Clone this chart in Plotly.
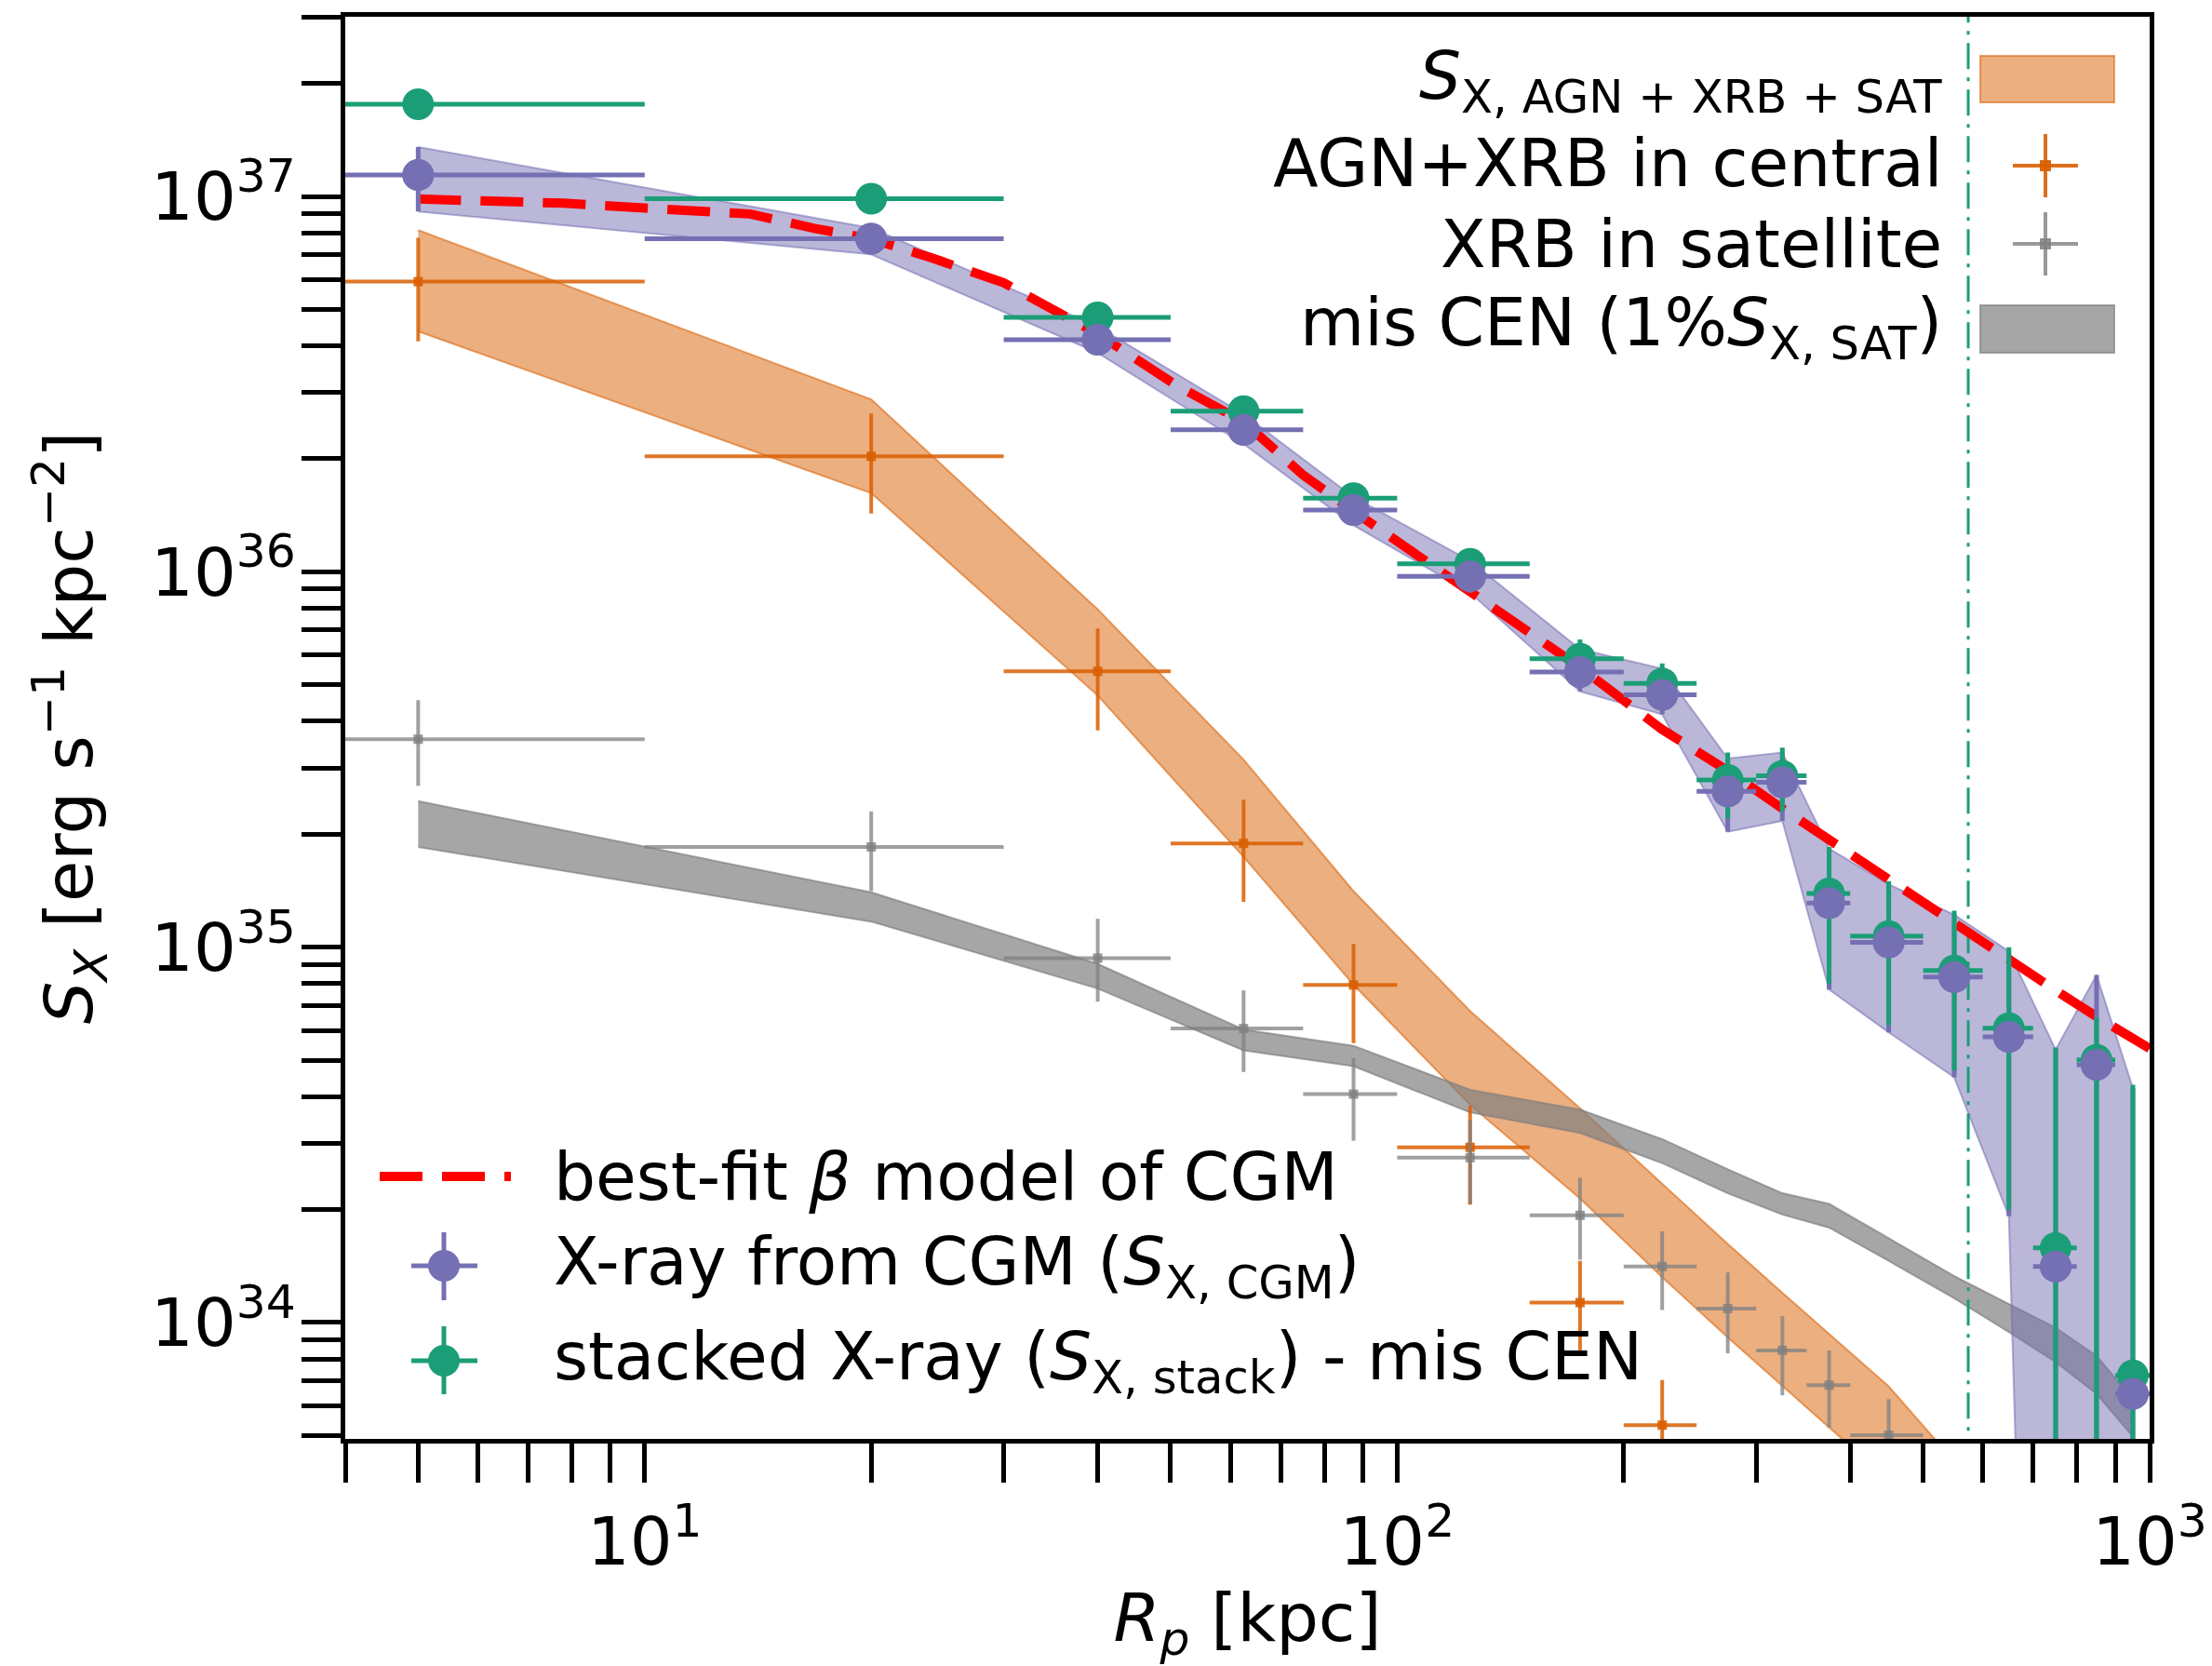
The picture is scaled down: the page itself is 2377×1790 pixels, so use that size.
import plotly.graph_objects as go

# ---------------- data ----------------
# radial bins [kpc]
r_bin = [5, 20, 40, 62.5, 87.5, 125, 175, 225, 275, 325, 375, 450, 550, 650, 750, 850, 950]
r_bin_lo = [0.01, 10, 30, 50, 75, 100, 150, 200, 250, 300, 350, 400, 500, 600, 700, 800, 900]
r_bin_hi = [10, 30, 50, 75, 100, 150, 200, 250, 300, 350, 400, 500, 600, 700, 800, 900, 1000]

# X-ray from CGM (S_X,CGM)
cgm_y = [1.14e37, 7.71e36, 4.15e36, 2.39e36, 1.46e36, 9.73e35, 5.41e35, 4.70e35, 2.60e35,
         2.75e35, 1.31e35, 1.03e35, 8.32e34, 5.77e34, 1.41e34, 4.86e34, 6.46e33]
cgm_hi = [1.354e37, 8.24e36, 4.50e36, 2.63e36, 1.58e36, 1.07e36, 6.22e35, 5.52e35, 3.18e35,
          3.30e35, 1.83e35, 1.47e35, 1.22e35, 9.75e34, 5.33e34, 8.43e34, 4.21e34]
cgm_lo = [9.12e36, 7.01e36, 3.83e36, 2.19e36, 1.33e36, 8.80e35, 4.80e35, 4.17e35, 2.03e35,
          2.17e35, 7.71e34, 5.93e34, 4.50e34, 1.92e34, 1e30, 1e30, 1e30]  # 1e30 ~ consistent with zero

# stacked X-ray (S_X,stack) - mis CEN
stack_y = [1.76e37, 9.86e36, 4.76e36, 2.68e36, 1.57e36, 1.05e36, 5.87e35, 5.04e35, 2.79e35,
           2.86e35, 1.39e35, 1.07e35, 8.67e34, 6.08e34, 1.58e34, 5.01e34, 7.23e33]
stack_hi = [1.82e37, 1.02e37, 4.95e36, 2.80e36, 1.65e36, 1.12e36, 6.60e35, 5.70e35, 3.30e35,
            3.40e35, 1.85e35, 1.50e35, 1.25e35, 1.00e35, 5.40e34, 6.50e34, 4.30e34]
stack_lo = [1.70e37, 9.50e36, 4.57e36, 2.55e36, 1.48e36, 9.80e35, 5.20e35, 4.50e35, 2.20e35,
            2.30e35, 8.00e34, 6.20e34, 4.70e34, 2.00e34, 1e30, 1e30, 1e30]

# best-fit beta model of CGM
beta_r = [5, 6, 7.8, 10, 11.5, 13.8, 16.8, 20, 24, 30, 40, 51, 62.5, 75, 87.5, 104, 125,
          175, 225, 275, 325, 375, 450, 550, 650, 750, 850, 950, 1000]
beta_y = [9.84e36, 9.75e36, 9.59e36, 9.31e36, 9.14e36, 8.98e36, 8.22e36, 7.71e36, 6.87e36,
          5.89e36, 4.30e36, 3.13e36, 2.51e36, 1.81e36, 1.45e36, 1.14e36, 8.91e35,
          5.56e35, 3.80e35, 2.95e35, 2.34e35, 1.93e35, 1.50e35, 1.15e35, 9.23e34,
          7.67e34, 6.53e34, 5.69e34, 5.37e34]

# S_X,AGN+XRB+SAT band
agn_band_r = [5, 20, 40, 62.5, 87.5, 125, 175, 225, 275, 325, 375, 450, 550, 650]
agn_band_hi = [8.13e36, 2.88e36, 7.94e35, 3.16e35, 1.41e35, 6.76e34, 3.72e34, 2.34e34,
               1.62e34, 1.20e34, 9.33e33, 6.76e33, 4.27e33, 2.82e33]
agn_band_lo = [4.37e36, 1.62e36, 4.68e35, 1.74e35, 7.94e34, 3.80e34, 2.14e34, 1.32e34,
               9.12e33, 6.76e33, 5.25e33, 3.80e33, 2.40e33, 1.58e33]

# mis CEN (1% S_X,SAT) band
mis_band_hi = [2.45e35, 1.40e35, 9.02e34, 6.03e34, 5.46e34, 4.17e34, 3.69e34, 3.08e34, 2.56e34,
               2.21e34, 2.07e34, 1.68e34, 1.33e34, 1.12e34, 9.68e33, 8.15e33, 6.24e33]
mis_band_lo = [1.85e35, 1.17e35, 7.76e34, 5.31e34, 4.82e34, 3.63e34, 3.20e34, 2.66e34, 2.21e34,
               1.94e34, 1.79e34, 1.46e34, 1.16e34, 9.44e33, 7.85e33, 6.46e33, 4.97e33]

# AGN+XRB in central
cen_r = [5, 20, 40, 62.5, 87.5, 125, 175, 225]
cen_y = [5.93e36, 2.03e36, 5.43e35, 1.89e35, 7.93e34, 2.93e34, 1.13e34, 5.33e33]
cen_hi = [7.76e36, 2.64e36, 7.06e35, 2.47e35, 1.02e35, 3.78e34, 1.46e34, 7.03e33]
cen_lo = [4.11e36, 1.43e36, 3.78e35, 1.32e35, 5.55e34, 2.06e34, 8.43e33, 3.20e33]

# XRB in satellite
sat_r = [5, 20, 40, 62.5, 87.5, 125, 175, 225, 275, 325, 375, 450]
sat_y = [3.58e35, 1.85e35, 9.35e34, 6.07e34, 4.06e34, 2.75e34, 1.93e34, 1.41e34, 1.09e34,
         8.43e33, 6.81e33, 5.01e33]
sat_hi = [4.55e35, 2.30e35, 1.19e35, 7.67e34, 5.07e34, 3.46e34, 2.43e34, 1.75e34, 1.36e34,
          1.04e34, 8.43e33, 6.25e33]
sat_lo = [2.69e35, 1.41e35, 7.16e34, 4.65e34, 3.05e34, 2.07e34, 1.47e34, 1.08e34, 8.28e33,
          6.40e33, 5.25e33, 3.80e33]

r_vir = 574  # vertical dash-dot line [kpc]

x_tick_vals = [10, 100, 1000]
x_tick_text = ["10<sup>1</sup>", "10<sup>2</sup>", "10<sup>3</sup>"]
y_tick_vals = [1e34, 1e35, 1e36, 1e37]
y_tick_text = ["10<sup>34</sup>", "10<sup>35</sup>", "10<sup>36</sup>", "10<sup>37</sup>"]

# ---------------- styling ----------------
PURPLE = "#7570b3"
GREEN = "#1b9e77"
ORANGE = "#d95f02"
FONT = "DejaVu Sans"
W, H = 2377, 1790
L, R, T, B = 371, 2310, 18, 1546  # plot area in pixels


def errs(y, hi, lo):
    return [h - v for v, h in zip(y, hi)], [v - l for v, l in zip(y, lo)]


xerr_p = [h - c for c, h in zip(r_bin, r_bin_hi)]
xerr_m = [c - l for c, l in zip(r_bin, r_bin_lo)]

fig = go.Figure()

# bands
fig.add_trace(go.Scatter(x=agn_band_r + agn_band_r[::-1], y=agn_band_hi + agn_band_lo[::-1],
                         fill="toself", fillcolor="rgba(217,95,2,0.5)", mode="lines",
                         line=dict(color="rgba(217,95,2,0.55)", width=2), hoverinfo="skip"))
fig.add_trace(go.Scatter(x=r_bin + r_bin[::-1], y=mis_band_hi + mis_band_lo[::-1],
                         fill="toself", fillcolor="rgba(128,128,128,0.7)", mode="lines",
                         line=dict(color="rgba(128,128,128,0.7)", width=2), hoverinfo="skip"))
fig.add_trace(go.Scatter(x=r_bin + r_bin[::-1], y=cgm_hi + cgm_lo[::-1],
                         fill="toself", fillcolor="rgba(117,112,179,0.5)", mode="lines",
                         line=dict(color="rgba(117,112,179,0.55)", width=2), hoverinfo="skip"))

# vertical line
fig.add_trace(go.Scatter(x=[r_vir, r_vir], y=[1e33, 1e38], mode="lines",
                         line=dict(color=GREEN, width=3, dash="28px,9px,4px,9px")))

# best-fit model
fig.add_trace(go.Scatter(x=beta_r, y=beta_y, mode="lines",
                         line=dict(color="red", width=10, dash="46px,21px")))

# crosses
ep, em = errs(cen_y, cen_hi, cen_lo)
cxp = [h - c for c, h in zip(cen_r, r_bin_hi)]
cxm = [c - l for c, l in zip(cen_r, r_bin_lo)]
fig.add_trace(go.Scatter(x=cen_r, y=cen_y, mode="markers",
                         marker=dict(symbol="square", size=10, color="rgba(217,95,2,0.9)"),
                         error_y=dict(type="data", symmetric=False, array=ep, arrayminus=em,
                                      color="rgba(217,95,2,0.85)", thickness=4, width=0),
                         error_x=dict(type="data", symmetric=False, array=cxp, arrayminus=cxm,
                                      color="rgba(217,95,2,0.85)", thickness=4, width=0)))
ep, em = errs(sat_y, sat_hi, sat_lo)
sxp = [h - c for c, h in zip(sat_r, r_bin_hi)]
sxm = [c - l for c, l in zip(sat_r, r_bin_lo)]
fig.add_trace(go.Scatter(x=sat_r, y=sat_y, mode="markers",
                         marker=dict(symbol="square", size=10, color="rgba(128,128,128,0.8)"),
                         error_y=dict(type="data", symmetric=False, array=ep, arrayminus=em,
                                      color="rgba(128,128,128,0.75)", thickness=4, width=0),
                         error_x=dict(type="data", symmetric=False, array=sxp, arrayminus=sxm,
                                      color="rgba(128,128,128,0.75)", thickness=4, width=0)))

# CGM error bars
ep, em = errs(cgm_y, cgm_hi, cgm_lo)
fig.add_trace(go.Scatter(x=r_bin, y=cgm_y, mode="markers",
                         marker=dict(size=34, color=PURPLE),
                         error_y=dict(type="data", symmetric=False, array=ep, arrayminus=em,
                                      color=PURPLE, thickness=5, width=0),
                         error_x=dict(type="data", symmetric=False, array=xerr_p, arrayminus=xerr_m,
                                      color=PURPLE, thickness=5, width=0)))
# stacked
ep, em = errs(stack_y, stack_hi, stack_lo)
fig.add_trace(go.Scatter(x=r_bin, y=stack_y, mode="markers",
                         marker=dict(size=34, color=GREEN),
                         error_y=dict(type="data", symmetric=False, array=ep, arrayminus=em,
                                      color=GREEN, thickness=5, width=0),
                         error_x=dict(type="data", symmetric=False, array=xerr_p, arrayminus=xerr_m,
                                      color=GREEN, thickness=5, width=0)))
# CGM markers on top
fig.add_trace(go.Scatter(x=r_bin, y=cgm_y, mode="markers", marker=dict(size=34, color=PURPLE)))


# ---------------- manual legends ----------------
def px(x):
    return (x - L) / (R - L)


def py(y):
    return (B - y) / (B - T)


shapes = []
annotations = []


def text(x, y, s, anchor):
    annotations.append(dict(xref="paper", yref="paper", x=px(x), y=py(y), text=s, showarrow=False,
                            xanchor=anchor, yanchor="middle",
                            font=dict(family=FONT, size=71, color="black")))


def rect(x0, y0, x1, y1, fill, edge):
    shapes.append(dict(type="rect", xref="paper", yref="paper", x0=px(x0), x1=px(x1),
                       y0=py(y1), y1=py(y0), fillcolor=fill, line=dict(color=edge, width=2)))


def seg(x0, y0, x1, y1, color, width, dash="solid"):
    shapes.append(dict(type="line", xref="paper", yref="paper", x0=px(x0), x1=px(x1),
                       y0=py(y0), y1=py(y1), line=dict(color=color, width=width, dash=dash)))


def cross(cx, cy, color, hw, hh, width, ms):
    seg(cx - hw, cy, cx + hw, cy, color, width)
    seg(cx, cy - hh, cx, cy + hh, color, width)
    rect(cx - ms, cy - ms, cx + ms, cy + ms, color, color)


def dot(cx, cy, r, color):
    shapes.append(dict(type="circle", xref="paper", yref="paper", x0=px(cx - r), x1=px(cx + r),
                       y0=py(cy + r), y1=py(cy - r), fillcolor=color, line=dict(color=color, width=0)))


# upper-right legend (labels right-aligned, keys on the right)
TX = 2089
text(TX, 86, "<i>S</i><sub>X, AGN + XRB + SAT</sub>", "right")
text(TX, 176, "AGN+XRB in central", "right")
text(TX, 262, "XRB in satellite", "right")
text(TX, 352, "mis CEN (1%<i>S</i><sub>X, SAT</sub>)", "right")
rect(2128, 60, 2272, 110, "rgba(217,95,2,0.5)", "rgba(217,95,2,0.55)")
cross(2198, 178, "rgba(217,95,2,0.9)", 35, 34, 4, 5)
cross(2198, 262, "rgba(128,128,128,0.8)", 35, 34, 4, 5)
rect(2128, 328, 2272, 379, "rgba(128,128,128,0.7)", "rgba(128,128,128,0.7)")

# lower-left legend
LX = 593
text(LX, 1264, "best-fit <i>β</i> model of CGM", "left")
text(LX, 1360, "X-ray from CGM (<i>S</i><sub>X, CGM</sub>)", "left")
text(LX, 1462, "stacked X-ray (<i>S</i><sub>X, stack</sub>) - mis CEN", "left")
seg(408, 1264, 549, 1264, "red", 10, "46px,21px")
seg(442, 1360, 513, 1360, PURPLE, 5)
seg(477, 1324, 477, 1397, PURPLE, 5)
dot(477, 1360, 17, PURPLE)
seg(442, 1462, 513, 1462, GREEN, 5)
seg(477, 1425, 477, 1498, GREEN, 5)
dot(477, 1462, 17, GREEN)

x_minor = [4, 5, 6, 7, 8, 9, 20, 30, 40, 50, 60, 70, 80, 90, 200, 300, 400, 500, 600, 700, 800, 900]
y_minor = [m * 10.0 ** e for e in (33, 34, 35, 36, 37) for m in range(2, 10)]

axis_common = dict(type="log", showline=True, linecolor="black", linewidth=4.5, mirror=True,
                   ticks="outside", ticklen=42, tickwidth=4.5, tickcolor="black",
                   showgrid=False, zeroline=False,
                   tickfont=dict(family=FONT, size=72, color="black"),
                   title_font=dict(family=FONT, size=72, color="black"))

fig.update_layout(
    width=W, height=H, showlegend=False,
    margin=dict(l=L, r=W - R, t=T, b=H - B, autoexpand=False),
    paper_bgcolor="white", plot_bgcolor="white",
    xaxis=dict(axis_common, range=[0.60206, 3.0], tickvals=x_tick_vals, ticktext=x_tick_text,
               ticklabelstandoff=2,
               minor=dict(tickvals=x_minor, ticks="outside", ticklen=42, tickwidth=4.5,
                          tickcolor="black", showgrid=False),
               title=dict(text="<i>R<sub>p</sub></i> [kpc]", standoff=35)),
    yaxis=dict(axis_common, range=[33.690, 37.4786], tickvals=y_tick_vals, ticktext=y_tick_text,
               ticklabelstandoff=-8,
               minor=dict(tickvals=y_minor, ticks="outside", ticklen=42, tickwidth=4.5,
                          tickcolor="black", showgrid=False),
               title=dict(text="<i>S<sub>X</sub></i> [erg s<sup>−1</sup> kpc<sup>−2</sup>]",
                          standoff=40)),
    shapes=shapes, annotations=annotations,
)

fig.write_html("out.html")
